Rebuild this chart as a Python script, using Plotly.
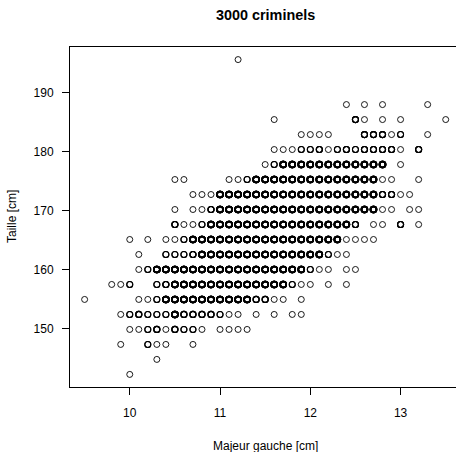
import plotly.graph_objects as go

# Heights (cm) of each row of the grid
heights = [142.24, 144.78, 147.32, 149.86, 152.40, 154.94, 157.48, 160.02,
           162.56, 165.10, 167.64, 170.18, 172.72, 175.26, 177.80, 180.34,
           182.88, 185.42, 187.96, 195.58]

# Left middle finger lengths (cm) observed in each height row
fingers = [
    [10.0],
    [10.3],
    [9.9, 10.2, 10.3, 10.4, 10.7],
    [10.0, 10.1, 10.2, 10.3, 10.4, 10.5, 10.6, 10.7, 10.8, 11.0, 11.1, 11.2, 11.3],
    [9.9, 10.0, 10.1, 10.2, 10.3, 10.4, 10.5, 10.6, 10.7, 10.8, 10.9, 11.0, 11.1, 11.2,
     11.4, 11.6, 11.8, 11.9],
    [9.5, 10.1, 10.2, 10.3, 10.4, 10.5, 10.6, 10.7, 10.8, 10.9, 11.0, 11.1, 11.2, 11.3,
     11.4, 11.5, 11.6, 11.7, 11.9],
    [9.8, 9.9, 10.0, 10.3, 10.4, 10.5, 10.6, 10.7, 10.8, 10.9, 11.0, 11.1, 11.2, 11.3,
     11.4, 11.5, 11.6, 11.7, 11.8, 11.9, 12.0, 12.2, 12.4],
    [10.1, 10.2, 10.3, 10.4, 10.5, 10.6, 10.7, 10.8, 10.9, 11.0, 11.1, 11.2, 11.3, 11.4,
     11.5, 11.6, 11.7, 11.8, 11.9, 12.0, 12.1, 12.2, 12.4, 12.5],
    [10.1, 10.4, 10.5, 10.6, 10.7, 10.8, 10.9, 11.0, 11.1, 11.2, 11.3, 11.4, 11.5, 11.6,
     11.7, 11.8, 11.9, 12.0, 12.1, 12.2, 12.3, 12.4],
    [10.0, 10.2, 10.4, 10.5, 10.6, 10.7, 10.8, 10.9, 11.0, 11.1, 11.2, 11.3, 11.4, 11.5,
     11.6, 11.7, 11.8, 11.9, 12.0, 12.1, 12.2, 12.3, 12.4, 12.5, 12.6, 12.7],
    [10.5, 10.6, 10.7, 10.8, 10.9, 11.0, 11.1, 11.2, 11.3, 11.4, 11.5, 11.6, 11.7, 11.8,
     11.9, 12.0, 12.1, 12.2, 12.3, 12.4, 12.5, 12.7, 12.8, 13.0, 13.2],
    [10.5, 10.7, 10.8, 10.9, 11.0, 11.1, 11.2, 11.3, 11.4, 11.5, 11.6, 11.7, 11.8, 11.9,
     12.0, 12.1, 12.2, 12.3, 12.4, 12.5, 12.6, 12.7, 12.8, 12.9, 13.1, 13.2],
    [10.7, 10.8, 10.9, 11.0, 11.1, 11.2, 11.3, 11.4, 11.5, 11.6, 11.7, 11.8, 11.9, 12.0,
     12.1, 12.2, 12.3, 12.4, 12.5, 12.6, 12.7, 12.8, 12.9, 13.0, 13.1],
    [10.5, 10.6, 11.1, 11.2, 11.3, 11.4, 11.5, 11.6, 11.7, 11.8, 11.9, 12.0, 12.1, 12.2,
     12.3, 12.4, 12.5, 12.6, 12.7, 12.8, 12.9, 13.2],
    [11.5, 11.6, 11.7, 11.8, 11.9, 12.0, 12.1, 12.2, 12.3, 12.4, 12.5, 12.6, 12.7, 12.8,
     13.0],
    [11.6, 11.7, 11.8, 11.9, 12.0, 12.1, 12.2, 12.3, 12.4, 12.5, 12.6, 12.7, 12.8, 12.9,
     13.0, 13.2],
    [11.9, 12.0, 12.1, 12.2, 12.6, 12.7, 12.8, 12.9, 13.0, 13.3],
    [11.6, 12.5, 12.6, 12.8, 13.0, 13.5],
    [12.4, 12.6, 12.8, 13.3],
    [11.2],
]

# Estimated number of criminals in each cell (read from circle darkness)
counts = [
    [1],
    [1],
    [1, 2, 1, 1, 1],
    [1, 1, 2, 3, 1, 3, 2, 2, 1, 1, 1, 1, 1],
    [1, 2, 3, 2, 2, 2, 6, 3, 3, 3, 3, 2, 1, 1, 1, 1, 1, 1],
    [1, 1, 1, 2, 6, 6, 6, 6, 6, 6, 6, 6, 6, 6, 3, 3, 1, 1, 1],
    [1, 1, 2, 2, 3, 6, 6, 6, 6, 6, 6, 6, 6, 6, 6, 6, 6, 6, 2, 1, 1, 1, 1],
    [1, 2, 6, 6, 6, 6, 6, 6, 6, 6, 6, 6, 6, 6, 6, 6, 6, 6, 6, 2, 1, 1, 1, 1],
    [1, 2, 2, 2, 3, 6, 6, 6, 6, 6, 6, 6, 6, 6, 6, 6, 6, 6, 6, 2, 1, 1],
    [1, 1, 1, 1, 2, 6, 6, 6, 6, 6, 6, 6, 6, 6, 6, 6, 6, 6, 6, 6, 6, 6, 1, 1, 1, 1],
    [3, 1, 1, 2, 6, 6, 6, 6, 6, 6, 6, 6, 6, 6, 6, 6, 6, 6, 6, 6, 3, 1, 1, 3, 1],
    [1, 1, 1, 3, 6, 6, 6, 6, 6, 6, 6, 6, 6, 6, 6, 6, 6, 6, 6, 6, 6, 6, 1, 1, 1, 1],
    [1, 1, 1, 6, 6, 6, 6, 6, 6, 6, 6, 6, 6, 6, 6, 6, 6, 6, 6, 6, 6, 3, 3, 1, 1],
    [1, 1, 1, 1, 2, 6, 6, 6, 6, 6, 6, 6, 6, 6, 6, 6, 6, 6, 6, 1, 1, 1],
    [1, 2, 6, 6, 6, 6, 6, 6, 6, 6, 6, 6, 6, 6, 1],
    [1, 1, 1, 2, 2, 3, 1, 2, 3, 2, 3, 3, 3, 3, 1, 3],
    [1, 1, 1, 1, 3, 3, 3, 1, 2, 1],
    [1, 3, 1, 1, 1, 1],
    [1, 1, 1, 1],
    [1],
]

x_ticks = [10, 11, 12, 13]
y_ticks = [150, 160, 170, 180, 190]

xs, ys, lw = [], [], []
for h, frow, crow in zip(heights, fingers, counts):
    for f, c in zip(frow, crow):
        xs.extend([f] * c)
        ys.extend([h] * c)
        # overlapping circles of crowded cells look heavier
        lw.extend([0.9 + 0.13 * (c - 1)] * c)

FONT = "Liberation Sans, Arial, Helvetica, sans-serif"

fig = go.Figure(go.Scatter(
    x=xs, y=ys, mode="markers",
    marker=dict(symbol="circle-open", size=6, color="black",
                line=dict(width=lw, color="black")),
    hoverinfo="skip", showlegend=False,
))

fig.update_layout(
    width=456, height=452,
    margin=dict(l=70, r=0, t=47, b=65, pad=0),
    paper_bgcolor="white", plot_bgcolor="white",
    font=dict(family=FONT, size=12, color="black"),
    xaxis=dict(range=[9.338, 13.614], tickvals=x_ticks, ticks="outside", ticklen=7,
               tickwidth=1, tickcolor="black", showline=True, linecolor="black",
               linewidth=1, mirror=True, showgrid=False, zeroline=False,
               ticklabelstandoff=8, tickfont=dict(size=12, family=FONT)),
    yaxis=dict(range=[140.107, 197.714], tickvals=y_ticks, ticks="outside", ticklen=7,
               tickwidth=1, tickcolor="black", showline=True, linecolor="black",
               linewidth=1, mirror=False, showgrid=False, zeroline=False,
               ticklabelstandoff=6, tickfont=dict(size=12, family=FONT)),
    annotations=[
        dict(text="<b>3000 criminels</b>", xref="paper", yref="paper", x=0.5, y=1,
             xanchor="center", yanchor="middle", xshift=2, yshift=32,
             showarrow=False, font=dict(size=14.4, family=FONT)),
        dict(text="Majeur gauche [cm]", xref="paper", yref="paper", x=0.5, y=0,
             xanchor="center", yanchor="middle", xshift=2, yshift=-59,
             showarrow=False, font=dict(size=12, family=FONT)),
        dict(text="Taille [cm]", xref="paper", yref="paper", x=0, y=0.5,
             xanchor="center", yanchor="middle", xshift=-58, textangle=-90,
             showarrow=False, font=dict(size=12, family=FONT)),
    ],
)

fig.write_html(
    "out.html",
    config={"displayModeBar": False, "staticPlot": True},
    post_script="document.body.style.margin='0';document.body.style.overflow='hidden';",
)
